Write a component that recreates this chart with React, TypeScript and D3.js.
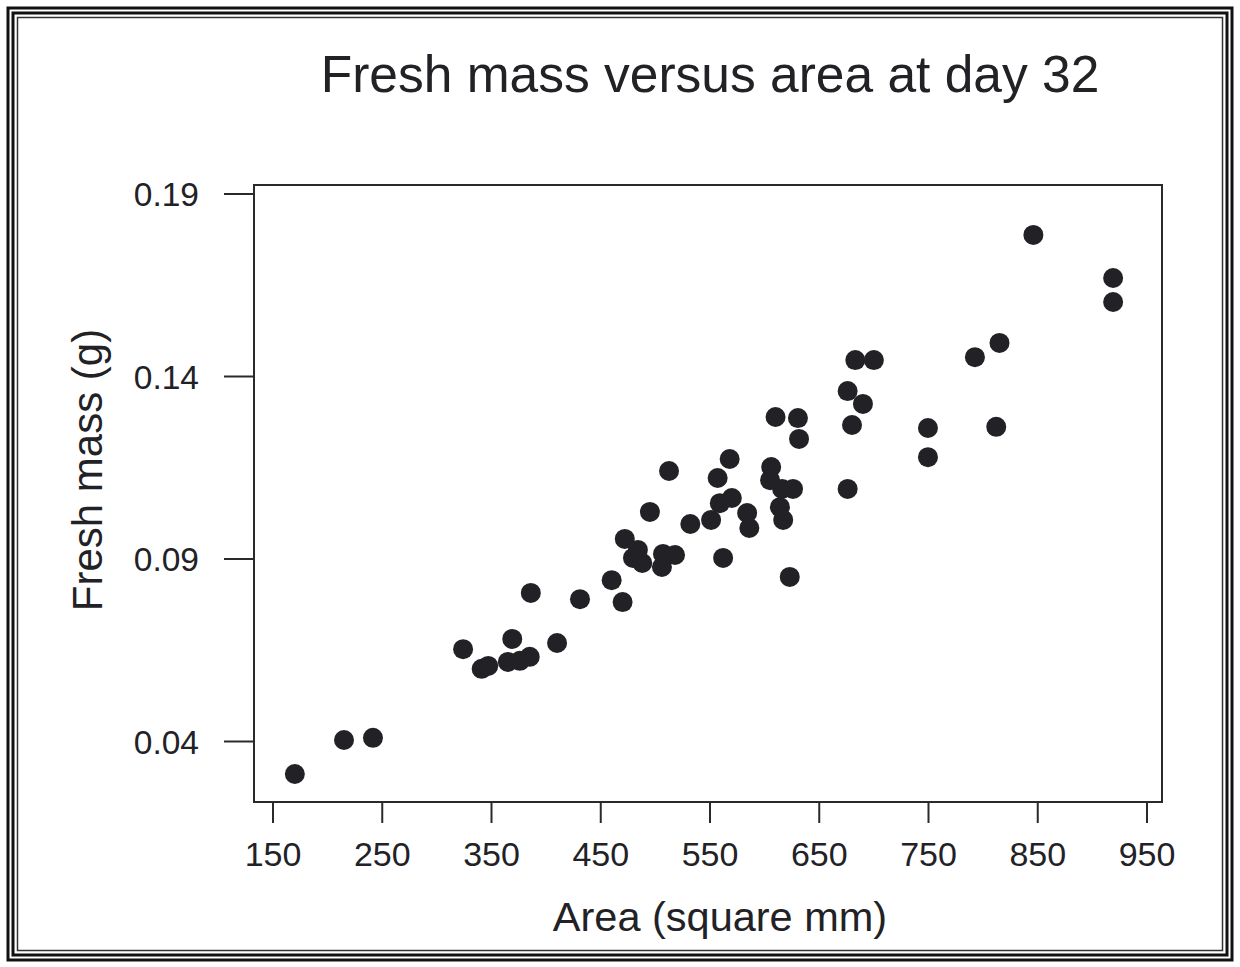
import React from "react";
import * as d3 from "d3";

const areaValues = [
  170, 215, 241.5, 324, 341, 347, 369, 365, 376, 385, 386, 410, 431, 460, 470, 472, 484, 479.5, 488,
  507, 518, 506, 495, 512.5, 532, 551, 559, 570, 557, 568, 584, 586, 562, 606, 605, 616, 626, 614,
  617, 623, 676, 610, 630.5, 631.5, 676, 690, 680, 683, 700, 749.5, 749.5, 792.5, 815, 812, 846, 919, 919,
];
const massValues = [
  0.0311, 0.0404, 0.041, 0.0653, 0.0599, 0.0607, 0.0681, 0.0618, 0.0621, 0.0632, 0.0807, 0.067, 0.079,
  0.0842, 0.0782, 0.0955, 0.0925, 0.0903, 0.0889, 0.0914, 0.0911, 0.0878, 0.1029, 0.1141, 0.0996, 0.1007,
  0.1053, 0.1067, 0.1122, 0.1174, 0.1026, 0.0985, 0.0903, 0.1152, 0.1116, 0.1092, 0.1092, 0.1042, 0.1007,
  0.0851, 0.1092, 0.1289, 0.1286, 0.1229, 0.136, 0.1325, 0.1267, 0.1445, 0.1445, 0.1259, 0.1179, 0.1453,
  0.1492, 0.1262, 0.1788, 0.167, 0.1604,
];
const xTicks = [150, 250, 350, 450, 550, 650, 750, 850, 950];
const yTicks = [0.04, 0.09, 0.14, 0.19];
const yTickLabels = ["0.04", "0.09", "0.14", "0.19"];
const titleText = "Fresh mass versus area at day 32";
const xLabel = "Area (square mm)";
const yLabel = "Fresh mass (g)";

const W = 1240;
const H = 967;
const box = { left: 254, right: 1162, top: 185, bottom: 802 };
const ink = "#222226";
const font = "'Liberation Sans', Arial, Helvetica, sans-serif";

export default function App() {
  const x = d3
    .scaleLinear()
    .domain([150, 950])
    .range([273, 1147]);
  const y = d3
    .scaleLinear()
    .domain([0.04, 0.19])
    .range([741.5, 194]);

  const points = areaValues.map((a, i) => ({ a, m: massValues[i] }));

  return (
    <div style={{ position: "absolute", left: 0, top: 0, width: W, height: H, background: "#fff" }}>
      <svg width={W} height={H} style={{ display: "block" }}>
        <rect x={0} y={0} width={W} height={H} fill="#fff" />
        {/* frame */}
        <rect x={8} y={8} width={W - 16} height={H - 15} fill="none" stroke="#111" strokeWidth={3} />
        <rect x={13} y={13} width={W - 26} height={H - 25} fill="none" stroke="#111" strokeWidth={3} />
        <rect x={17.5} y={17.5} width={W - 35} height={H - 34} fill="none" stroke="#333" strokeWidth={1.5} />

        <text
          x={710}
          y={92}
          textAnchor="middle"
          fontFamily={font}
          fontSize={51.5}
          fill={ink}
        >
          {titleText}
        </text>

        <rect
          x={box.left}
          y={box.top}
          width={box.right - box.left}
          height={box.bottom - box.top}
          fill="none"
          stroke="#2a2a2a"
          strokeWidth={2}
        />

        {xTicks.map((t) => (
          <g key={"x" + t}>
            <line x1={x(t)} x2={x(t)} y1={box.bottom} y2={box.bottom + 21} stroke="#2a2a2a" strokeWidth={2} />
            <text x={x(t)} y={866} textAnchor="middle" fontFamily={font} fontSize={34} fill={ink}>
              {String(t)}
            </text>
          </g>
        ))}

        {yTicks.map((t, i) => (
          <g key={"y" + t}>
            <line x1={box.left - 30} x2={box.left} y1={y(t)} y2={y(t)} stroke="#2a2a2a" strokeWidth={2} />
            <text x={199} y={y(t) + 12} textAnchor="end" fontFamily={font} fontSize={33.5} fill={ink}>
              {yTickLabels[i]}
            </text>
          </g>
        ))}

        <text x={720} y={931} textAnchor="middle" fontFamily={font} fontSize={41.5} fill={ink}>
          {xLabel}
        </text>
        <text
          transform={`translate(102,470) rotate(-90)`}
          textAnchor="middle"
          fontFamily={font}
          fontSize={42}
          fill={ink}
        >
          {yLabel}
        </text>

        {points.map((p, i) => (
          <circle key={i} cx={x(p.a)} cy={y(p.m)} r={10} fill={ink} />
        ))}
      </svg>
    </div>
  );
}
